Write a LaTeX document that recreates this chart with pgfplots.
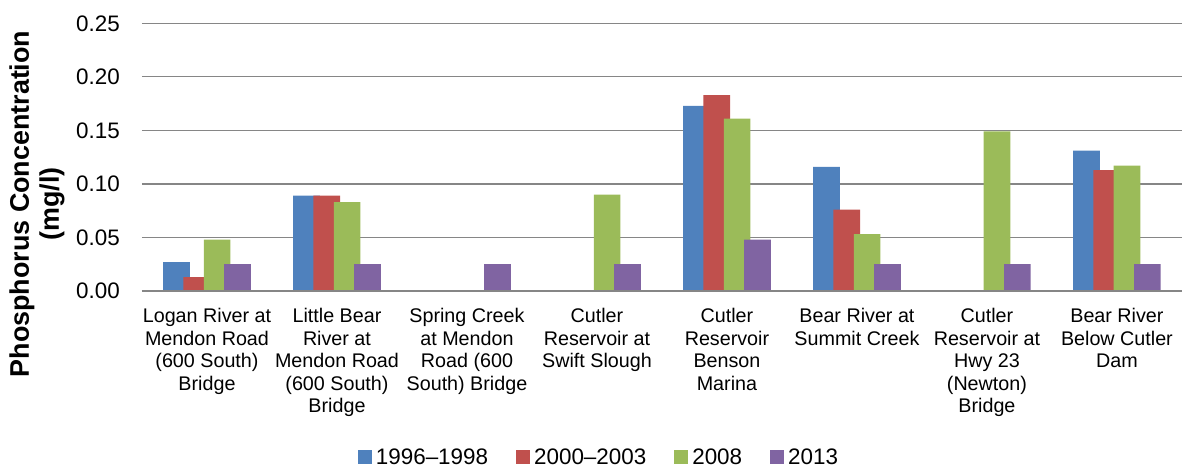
\documentclass[border=0pt]{standalone}
\usepackage{pgfplots}
\pgfplotsset{compat=1.18}
\usepackage{fontspec}
\setmainfont{Liberation Sans}
\definecolor{cA}{HTML}{4F81BD}
\definecolor{cB}{HTML}{C0504D}
\definecolor{cC}{HTML}{9BBB59}
\definecolor{cD}{HTML}{8064A2}
\definecolor{gridc}{RGB}{134,134,134}
\begin{document}
\begin{tikzpicture}
\begin{axis}[
  scale only axis, width=1040bp, height=267.7bp,
  xmin=-0.5, xmax=7.5, ymin=0, ymax=0.25,
  ytick={0,0.05,0.10,0.15,0.20,0.25},
  /pgf/number format/assume math mode=true,
  yticklabel style={/pgf/number format/.cd, fixed, fixed zerofill, precision=2, /tikz/.cd,
    font=\fontsize{22.5}{27}\selectfont, inner sep=0pt, xshift=-22bp},
  major tick length=0pt,
  ymajorgrids, grid style={draw=gridc, line width=1.2bp},
  axis line style={draw=none},
  xtick={0,1,2,3,4,5,6,7},
  xticklabels={
    {Logan River at\\Mendon Road\\(600 South)\\Bridge},
    {Little Bear\\River at\\Mendon Road\\(600 South)\\Bridge},
    {Spring Creek\\at Mendon\\Road (600\\South) Bridge},
    {Cutler\\Reservoir at\\Swift Slough},
    {Cutler\\Reservoir\\Benson\\Marina},
    {Bear River at\\Summit Creek},
    {Cutler\\Reservoir at\\Hwy 23\\(Newton)\\Bridge},
    {Bear River\\Below Cutler\\Dam}},
  xticklabel style={align=center, font=\fontsize{19.8}{22.7}\selectfont, inner sep=0pt, anchor=north, yshift=-17bp},
  ylabel={Phosphorus Concentration\\(mg/l)},
  ylabel style={align=center, font=\bfseries\fontsize{27}{30}\selectfont, at={(axis description cs:-0.101,0.325)}, anchor=center},
  ybar, bar width=26.7bp,
  legend columns=4,
  legend style={at={(axis description cs:0.4404,-0.62)}, anchor=center, draw=none,
    font=\fontsize{22.5}{27}\selectfont,
    /tikz/every even column/.append style={column sep=24bp},
    nodes={inner xsep=4bp, inner ysep=1bp}},
  legend image code/.code={\fill[#1] (0bp,-7bp) rectangle (14bp,7bp);},
]
\addplot[fill=cA, draw=none, bar shift=-30.45bp] coordinates {(0,0.027) (1,0.089) (4,0.173) (5,0.116) (7,0.131)};
\addplot[fill=cB, draw=none, bar shift=-10.15bp] coordinates {(0,0.013) (1,0.089) (4,0.183) (5,0.076) (7,0.113)};
\addplot[fill=cC, draw=none, bar shift=10.15bp] coordinates {(0,0.048) (1,0.083) (3,0.090) (4,0.161) (5,0.053) (6,0.149) (7,0.117)};
\addplot[fill=cD, draw=none, bar shift=30.45bp] coordinates {(0,0.025) (1,0.025) (2,0.025) (3,0.025) (4,0.048) (5,0.025) (6,0.025) (7,0.025)};
\legend{1996–1998, 2000–2003, 2008, 2013}
\draw[gridc, line width=2bp] (rel axis cs:0,0) -- (rel axis cs:1,0);
\end{axis}
\pgfresetboundingbox
\path[use as bounding box] (-142bp,-174bp) rectangle (1040bp,291bp);
\end{tikzpicture}
\end{document}
